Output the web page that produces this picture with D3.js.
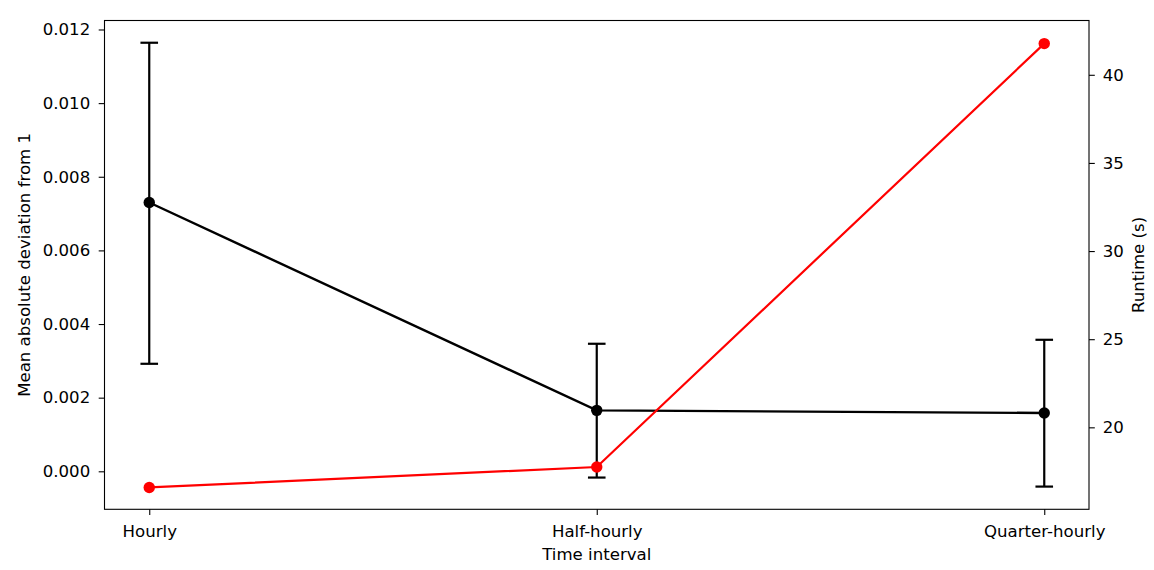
<!DOCTYPE html>
<html><head><meta charset="utf-8">
<script src="https://cdn.jsdelivr.net/npm/d3@7"></script>
<style>body{margin:0;background:#fff}svg{display:block}text{font-family:"DejaVu Sans",sans-serif;fill:#000}</style>
</head><body><svg id="c" width="1154" height="570"></svg>
<script>
const categories = ["Hourly", "Half-hourly", "Quarter-hourly"];
const deviation = [0.00730, 0.001655, 0.001584];
const errLow = [0.00292, -0.00017, -0.000415];
const errHigh = [0.01164, 0.003464, 0.003572];
const runtime = [16.59, 17.75, 41.77];
const leftTicks = [0.000, 0.002, 0.004, 0.006, 0.008, 0.010, 0.012];
const rightTicks = [20, 25, 30, 35, 40];

const svg = d3.select("#c");
const L = 104.5, R = 1089, T = 20.5, B = 509.3;
const x = d3.scaleLinear().domain([-0.1, 2.1]).range([L, R]);
const yL = d3.scaleLinear().domain([-0.001032, 0.012244]).range([B, T]);
const yR = d3.scaleLinear().domain([15.35, 43.08]).range([B, T]);
const fs = 16.6;

const gx = svg.append("g").attr("transform", `translate(0,${B})`)
  .call(d3.axisBottom(x).tickValues([0,1,2]).tickFormat(i => categories[i]).tickSize(5.8).tickPadding(9));
const gl = svg.append("g").attr("transform", `translate(${L},0)`)
  .call(d3.axisLeft(yL).tickValues(leftTicks).tickFormat(d3.format(".3f")).tickSize(5.8).tickPadding(8.5));
const gr = svg.append("g").attr("transform", `translate(${R},0)`)
  .call(d3.axisRight(yR).tickValues(rightTicks).tickFormat(d3.format("d")).tickSize(5.8).tickPadding(8));
[gx, gl, gr].forEach(g => {
  g.select(".domain").remove();
  g.selectAll(".tick line").attr("stroke", "#000").attr("stroke-width", 1.1);
  g.selectAll(".tick text").style("font-size", fs + "px").attr("fill", "#000");
});
gx.selectAll(".tick text").attr("dy", "0.75em");

svg.append("rect").attr("x", L).attr("y", T).attr("width", R - L).attr("height", B - T)
  .attr("fill", "none").attr("stroke", "#000").attr("stroke-width", 1.1);

const idx = [0,1,2];
// error bars
const eg = svg.append("g").attr("stroke", "#000").attr("stroke-width", 2.2);
idx.forEach(i => {
  eg.append("line").attr("x1", x(i)).attr("x2", x(i)).attr("y1", yL(errLow[i])).attr("y2", yL(errHigh[i]));
  [errLow[i], errHigh[i]].forEach(v => eg.append("line").attr("x1", x(i) - 8.8).attr("x2", x(i) + 8.8).attr("y1", yL(v)).attr("y2", yL(v)));
});
svg.append("path").datum(idx)
  .attr("d", d3.line().x(i => x(i)).y(i => yL(deviation[i])))
  .attr("fill", "none").attr("stroke", "#000").attr("stroke-width", 2.4);
svg.append("g").selectAll("circle").data(idx).join("circle")
  .attr("cx", i => x(i)).attr("cy", i => yL(deviation[i])).attr("r", 5.7).attr("fill", "#000");

svg.append("path").datum(idx)
  .attr("d", d3.line().x(i => x(i)).y(i => yR(runtime[i])))
  .attr("fill", "none").attr("stroke", "#ff0000").attr("stroke-width", 2.2);
svg.append("g").selectAll("circle").data(idx).join("circle")
  .attr("cx", i => x(i)).attr("cy", i => yR(runtime[i])).attr("r", 5.7).attr("fill", "#ff0000");

svg.append("text").attr("x", (L + R) / 2).attr("y", 560).attr("text-anchor", "middle")
  .style("font-size", fs + "px").text("Time interval");
svg.append("text").attr("transform", `translate(29.5,${(T + B) / 2}) rotate(-90)`).attr("text-anchor", "middle")
  .style("font-size", fs + "px").text("Mean absolute deviation from 1");
svg.append("text").attr("transform", `translate(1144,${(T + B) / 2}) rotate(-90)`).attr("text-anchor", "middle")
  .style("font-size", fs + "px").text("Runtime (s)");
</script></body></html>
